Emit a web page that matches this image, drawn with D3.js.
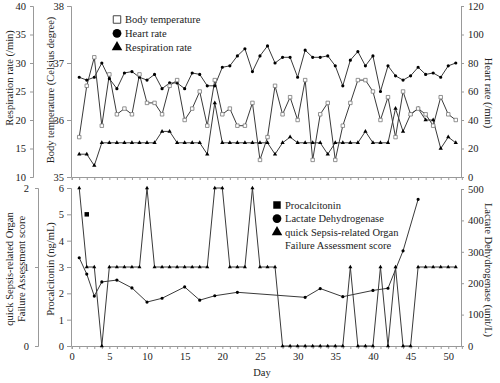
<!DOCTYPE html>
<html><head><meta charset="utf-8">
<script src="https://cdn.jsdelivr.net/npm/d3@7"></script>
<style>
html,body{margin:0;padding:0;background:#fff;}
svg{display:block;font-family:"Liberation Serif","Times New Roman",serif;}
</style></head>
<body><svg id="c" width="500" height="383"></svg>
<script>
const days = d3.range(1, 52);
const bodyTemp = [35.7,36.6,37.1,35.9,36.8,36.1,36.2,36.1,36.8,36.3,36.3,36.1,36.6,36.7,36.0,36.2,36.5,35.9,36.7,36.1,36.2,35.9,35.9,36.3,35.3,35.7,36.6,36.1,36.4,36.0,36.7,35.3,36.1,36.3,35.3,35.9,36.3,36.7,36.7,36.5,36.0,36.4,35.7,36.5,36.1,36.2,36.1,35.9,36.4,36.1,36.0];
const heartRate = [70,68,70,80,69,62,73,74,70,68,72,62,66,66,62,73,72,64,64,77,78,85,90,74,85,92,80,84,84,70,89,84,84,85,78,64,82,88,78,85,60,78,71,68,71,77,72,73,70,78,80];
const respRate = [14,14,12,16,16,16,16,16,16,16,16,18,18,16,16,16,16,14,23,16,16,16,16,16,16,16,14,16,17,16,16,16,16,14,16,16,16,16,18,16,16,16,22,18,21,22,20,20,15,17,16];
const qsofa = [2,1,1,0,1,1,1,1,1,2,1,1,1,1,1,1,1,1,2,2,1,1,1,2,1,1,1,0,0,0,0,0,0,0,0,0,1,0,0,0,1,0,1,0,0,1,1,1,1,1,1];
const ldhDays = [1,2,3,4,6,8,10,12,15,17,19,22,31,33,36,40,42,44,46];
const ldhValues = [281,229,159,204,210,185,140,152,188,146,160,171,155,183,157,177,184,303,467];
const pctDays = [2];
const pctValues = [5];
const respTicks = [10,15,20,25,30,35,40];
const tempTicks = [35,36,37,38];
const hrTicks = [0,20,40,60,80,100,120];
const qTicks = [0,1,2];
const pctTicks = [0,1,2,3,4,5,6];
const ldhTicks = [0,100,200,300,400,500];
const dayLabels = [0,5,10,15,20,25,30,35,40,45,50];

const svg = d3.select("#c");
const AX = "#999", TXT = "#222", LN = "#3a3a3a", FS = "10.5px";
const fmt = d3.format("d");

const x = d3.scaleLinear().domain([0, 51.8]).range([71.7, 461.8]);
const yT = d3.scaleLinear().domain([35, 38]).range([177, 6]);
const yR = d3.scaleLinear().domain([10, 40]).range([177, 6]);
const yH = d3.scaleLinear().domain([0, 120]).range([177, 6]);
const yP = d3.scaleLinear().domain([0, 6]).range([346, 188]);
const yQ = d3.scaleLinear().domain([0, 2]).range([346, 188]);
const yL = d3.scaleLinear().domain([0, 500]).range([346, 189]);

function styleAxis(g) {
  g.selectAll("path,line").attr("stroke", AX).attr("stroke-width", 1);
  g.selectAll("text").attr("fill", TXT).style("font-size", FS).style("font-family", "Liberation Serif");
}
function addAxis(axis, tx, ty) {
  const g = svg.append("g").attr("transform", `translate(${tx},${ty})`).call(axis);
  styleAxis(g);
  return g;
}
// top panel axes
addAxis(d3.axisLeft(yR).tickValues(respTicks).tickFormat(fmt).tickSizeOuter(0).tickSize(3).tickPadding(4), 33, 0);
addAxis(d3.axisLeft(yT).tickValues(tempTicks).tickFormat(fmt).tickSizeOuter(0).tickSize(4).tickPadding(3), 71, 0);
addAxis(d3.axisRight(yH).tickValues(hrTicks).tickFormat(fmt).tickSizeOuter(0).tickSize(3).tickPadding(4), 461, 0);
addAxis(d3.axisBottom(x).tickValues(d3.range(0, 52)).tickFormat("").tickSizeOuter(0).tickSize(3), 0, 177);
// bottom panel axes
addAxis(d3.axisLeft(yQ).tickValues(qTicks).tickFormat(fmt).tickSizeOuter(0).tickSize(3).tickPadding(6), 38, 0);
addAxis(d3.axisLeft(yP).tickValues(pctTicks).tickFormat(fmt).tickSizeOuter(0).tickSize(4).tickPadding(3), 71, 0);
addAxis(d3.axisRight(yL).tickValues(ldhTicks).tickFormat(fmt).tickSizeOuter(0).tickSize(3).tickPadding(4), 461, 0);
addAxis(d3.axisBottom(x).tickValues(d3.range(0, 52)).tickFormat(d => dayLabels.includes(d) ? d : "").tickSizeOuter(0).tickSize(3).tickPadding(4), 0, 346);

// axis titles
function title(t, tx, ty, rot) {
  svg.append("text").attr("transform", `translate(${tx},${ty}) rotate(${rot})`)
    .attr("text-anchor", "middle").attr("fill", TXT).style("font-size", FS).text(t);
}
title("Respiration rate (/min)", 13, 78, -90);
title("Body temperature (Celsius degree)", 54, 90, -90);
title("Heart rate (/min)", 485, 93, 90);
title("quick Sepsis-related Organ", 13, 269, -90);
title("Failure Assessment score", 25, 269, -90);
title("Procalcitonin (ng/mL)", 54, 269, -90);
title("Lactate Dehydrogenase (unit/L)", 485, 270, 90);
svg.append("text").attr("x", 262).attr("y", 376).attr("text-anchor", "middle").attr("fill", TXT).style("font-size", FS).text("Day");

// series drawing helpers
function drawLine(xs, ys, ys_scale) {
  const line = d3.line().x((d, i) => x(xs[i])).y(d => ys_scale(d));
  svg.append("path").datum(ys).attr("d", line).attr("fill", "none").attr("stroke", LN).attr("stroke-width", 1);
}
const sym = (type, size) => d3.symbol().type(type).size(size);
function drawMarks(xs, ys, ys_scale, type, size, fill, stroke) {
  svg.append("g").selectAll("path").data(ys).join("path")
    .attr("transform", (d, i) => `translate(${x(xs[i])},${ys_scale(d)})`)
    .attr("d", sym(type, size)())
    .attr("fill", fill).attr("stroke", stroke || "none").attr("stroke-width", 0.8);
}

// top panel
drawLine(days, bodyTemp, yT);
drawLine(days, heartRate, yH);
drawLine(days, respRate, yR);
drawMarks(days, heartRate, yH, d3.symbolCircle, 8, "#000");
drawMarks(days, respRate, yR, d3.symbolTriangle, 8, "#000");
drawMarks(days, bodyTemp, yT, d3.symbolSquare, 12, "#fff", "#777");

// bottom panel
drawLine(days, qsofa, yQ);
drawLine(ldhDays, ldhValues, yL);
drawMarks(days, qsofa, yQ, d3.symbolTriangle, 7, "#000");
drawMarks(ldhDays, ldhValues, yL, d3.symbolCircle, 8, "#000");
drawMarks(pctDays, pctValues, yP, d3.symbolSquare, 20, "#000");

// legends
function legend(items, lx, ly, dy) {
  items.forEach((it, i) => {
    const cy = ly + i * dy;
    if (it.type) {
      svg.append("path").attr("transform", `translate(${lx},${cy})`)
        .attr("d", d3.symbol().type(it.type).size(it.size)())
        .attr("fill", it.fill).attr("stroke", it.stroke || "none").attr("stroke-width", 1);
    }
    svg.append("text").attr("x", lx + 8).attr("y", cy + 3.6).attr("fill", TXT).style("font-size", FS).text(it.label);
  });
}
legend([
  {type: d3.symbolSquare, size: 56, fill: "#fff", stroke: "#444", label: "Body temperature"},
  {type: d3.symbolCircle, size: 60, fill: "#000", label: "Heart rate"},
  {type: d3.symbolTriangle, size: 48, fill: "#000", label: "Respiration rate"}
], 117, 19.5, 13.8);
legend([
  {type: d3.symbolSquare, size: 56, fill: "#000", label: "Procalcitonin"},
  {type: d3.symbolCircle, size: 60, fill: "#000", label: "Lactate Dehydrogenase"},
  {type: d3.symbolTriangle, size: 48, fill: "#000", label: "quick Sepsis-related Organ"},
  {type: null, label: "Failure Assessment score"}
], 277, 205, 13.6);
</script></body></html>
